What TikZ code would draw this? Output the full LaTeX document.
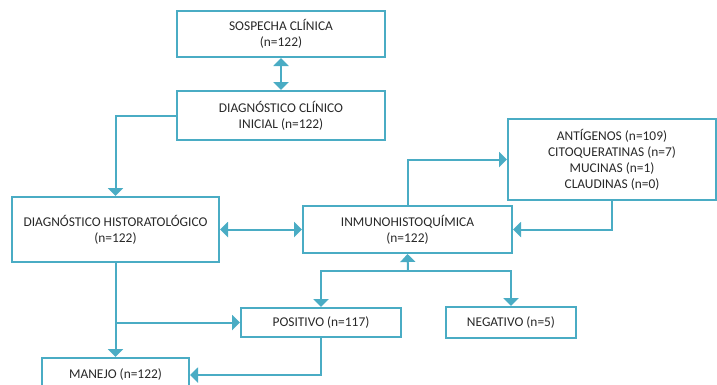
\documentclass[tikz,border=0pt]{standalone}
\usepackage{fontspec}
\setmainfont{Carlito}
\usetikzlibrary{arrows.meta}
\definecolor{teal1}{RGB}{74,172,196}
\definecolor{txt}{RGB}{40,40,40}
\begin{document}
\begin{tikzpicture}[x=1pt,y=-1pt,
  box/.style={draw=teal1,line width=2pt,rectangle,align=center,text=txt,inner sep=0pt,
    font=\fontsize{13.4}{16}\selectfont},
  conn/.style={draw=teal1,line width=2pt},
  tip/.style={conn,-{Triangle[width=15pt,length=8pt]}},
  dtip/.style={conn,{Triangle[width=15pt,length=8pt]}-{Triangle[width=15pt,length=8pt]}}]
\useasboundingbox (0,0) rectangle (717,384);
\node[box,minimum width=208pt,minimum height=46pt] (s) at (281,34) {SOSPECHA CLÍNICA\\(n=122)};
\node[box,minimum width=208pt,minimum height=49pt] (d) at (281,115.5) {DIAGNÓSTICO CLÍNICO\\INICIAL (n=122)};
\node[box,minimum width=207pt,minimum height=65pt] (h) at (115.5,229.5) {DIAGNÓSTICO HISTORATOLÓGICO\\(n=122)};
\node[box,minimum width=209pt,minimum height=47pt] (i) at (407.5,229.5) {INMUNOHISTOQUÍMICA\\(n=122)};
\node[box,minimum width=208pt,minimum height=81pt] (a) at (612,159.5) {ANTÍGENOS (n=109)\\CITOQUERATINAS (n=7)\\MUCINAS (n=1)\\CLAUDINAS (n=0)};
\node[box,minimum width=160pt,minimum height=29pt] (p) at (321,322.5) {POSITIVO (n=117)};
\node[box,minimum width=130pt,minimum height=31pt] (n) at (511,322.5) {NEGATIVO (n=5)};
\node[box,minimum width=147pt,minimum height=34pt] (m) at (115.5,375) {MANEJO (n=122)};
\coordinate (j) at (408,271);
\draw[dtip] (s.south) -- (d.north);
\draw[tip] (d.west) -| (h.north);
\draw[dtip] (h.east) -- (i.west);
\draw[tip] (i.north) |- (a.west);
\draw[tip] (a.south) |- (i.east);
\draw[tip] (j) -- (i.south);
\draw[tip] (j) -| (p.north);
\draw[tip] (j) -| (n.north);
\draw[tip] (h.south) -- (m.north);
\draw[tip] (h.south |- p.west) -- (p.west);
\draw[tip] (p.south) |- (m.east);
\end{tikzpicture}
\end{document}
